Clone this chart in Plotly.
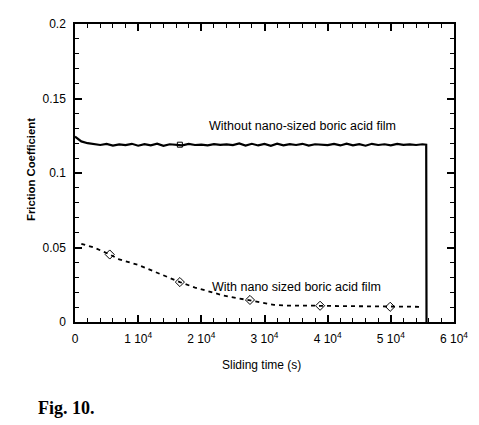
import plotly.graph_objects as go

# Upper series: without nano-sized boric acid film
x_without = [0, 1000, 2000, 3000, 4000, 5000, 6000, 7000, 8000, 9000,
             10000, 11000, 12000, 13000, 14000, 15000, 16000, 17000, 18000, 19000,
             20000, 21000, 22000, 23000, 24000, 25000, 26000, 27000, 28000, 29000,
             30000, 31000, 32000, 33000, 34000, 35000, 36000, 37000, 38000, 39000,
             40000, 41000, 42000, 43000, 44000, 45000, 46000, 47000, 48000, 49000,
             50000, 51000, 52000, 53000, 54000, 55000, 55600, 55650]
y_without = [0.1245, 0.1212, 0.1200, 0.1193, 0.1188, 0.1195, 0.1184, 0.1192, 0.1187, 0.1196,
             0.1183, 0.1194, 0.1186, 0.1197, 0.1182, 0.1193, 0.1189, 0.1185, 0.1195, 0.1188,
             0.1191, 0.1186, 0.1194, 0.1189, 0.1192, 0.1187, 0.1198, 0.1184, 0.1196, 0.1185,
             0.1195, 0.1183, 0.1197, 0.1186, 0.1194, 0.1188, 0.1196, 0.1184, 0.1193, 0.1190,
             0.1187, 0.1195, 0.1185, 0.1197, 0.1186, 0.1194, 0.1183, 0.1196, 0.1188, 0.1193,
             0.1186, 0.1195, 0.1189, 0.1192, 0.1188, 0.1193, 0.1190, 0.0]
x_without_mk = [16600]
y_without_mk = [0.1190]

# Lower series: with nano-sized boric acid film
x_with = [1000, 3000, 5500, 7000, 10000, 13000, 16600, 19000, 21500, 23500,
          25500, 27500, 29500, 31500, 33500, 35500, 37500, 39500, 41500, 43500,
          45500, 47500, 49500, 51500, 53500, 54800]
y_with = [0.0525, 0.0500, 0.0453, 0.0420, 0.0383, 0.0330, 0.0268, 0.0231, 0.0200, 0.0178,
          0.0162, 0.0148, 0.0130, 0.0115, 0.0110, 0.0112, 0.0110, 0.0108, 0.0107, 0.0105,
          0.0104, 0.0103, 0.0102, 0.0101, 0.0101, 0.0102]
x_with_mk = [5500, 16600, 27700, 38800, 49900]
y_with_mk = [0.0453, 0.0268, 0.0148, 0.0109, 0.0102]

x_ticks = [0, 10000, 20000, 30000, 40000, 50000, 60000]
x_ticktext = ["0", "1 10<sup>4</sup>", "2 10<sup>4</sup>", "3 10<sup>4</sup>",
              "4 10<sup>4</sup>", "5 10<sup>4</sup>", "6 10<sup>4</sup>"]
y_ticks = [0, 0.05, 0.1, 0.15, 0.2]
y_ticktext = ["0", "0.05", "0.1", "0.15", "0.2"]

FONT = "Liberation Sans"

fig = go.Figure()
fig.add_trace(go.Scatter(x=x_without, y=y_without, mode="lines",
                         line=dict(color="black", width=2.2), showlegend=False))
fig.add_trace(go.Scatter(x=x_without_mk, y=y_without_mk, mode="markers",
                         marker=dict(symbol="square-open", size=5, color="black",
                                     line=dict(width=1)), showlegend=False))
fig.add_trace(go.Scatter(x=x_with, y=y_with, mode="lines",
                         line=dict(color="black", width=1.8, dash="4px,4px"),
                         showlegend=False))
fig.add_trace(go.Scatter(x=x_with_mk, y=y_with_mk, mode="markers",
                         marker=dict(symbol="diamond-open", size=7, color="black",
                                     line=dict(width=1)), showlegend=False))

fig.update_layout(
    width=479, height=425,
    margin=dict(l=75, r=25, t=24, b=103),
    paper_bgcolor="white", plot_bgcolor="white",
    font=dict(family=FONT, size=12, color="black"),
    xaxis=dict(range=[0, 60000], tickvals=x_ticks, ticktext=x_ticktext,
               ticks="inside", ticklen=7, tickwidth=1.5, tickcolor="black",
               showline=True, linecolor="black", linewidth=2, mirror="ticks",
               showgrid=False, zeroline=False, ticklabelstandoff=5,
               minor=dict(dtick=2000, ticks="inside", ticklen=4, tickcolor="black",
                          tickwidth=1, showgrid=False),
               tickfont=dict(family=FONT, size=12)),
    yaxis=dict(range=[0, 0.2], tickvals=y_ticks, ticktext=y_ticktext,
               ticks="inside", ticklen=7, tickwidth=1.5, tickcolor="black",
               showline=True, linecolor="black", linewidth=1.5, mirror="ticks",
               showgrid=False, zeroline=False, ticklabelstandoff=5,
               minor=dict(dtick=0.01, ticks="inside", ticklen=4, tickcolor="black",
                          tickwidth=1, showgrid=False),
               tickfont=dict(family=FONT, size=12)),
    annotations=[
        dict(x=36080, y=0.1313, xref="x", yref="y", text="Without nano-sized boric acid film",
             showarrow=False, font=dict(family=FONT, size=12.5), xanchor="center", yanchor="middle"),
        dict(x=21300, y=0.0233, xref="x", yref="y", text="With nano sized boric acid film",
             showarrow=False, font=dict(family=FONT, size=12.5), xanchor="left", yanchor="middle"),
        dict(x=0, y=0.51, xref="paper", yref="paper", text="<b>Friction Coefficient</b>",
             textangle=-90, showarrow=False, font=dict(family=FONT, size=11.3),
             xanchor="center", yanchor="middle", xshift=-44),
        dict(x=0.493, y=0, xref="paper", yref="paper", text="Sliding time (s)",
             showarrow=False, font=dict(family=FONT, size=12),
             xanchor="center", yanchor="middle", yshift=-43),
        dict(x=0, y=0, xref="paper", yref="paper", text="<b>Fig. 10.</b>",
             showarrow=False, font=dict(family="Liberation Serif", size=18),
             xanchor="left", yanchor="middle", xshift=-39, yshift=-86),
    ],
)

fig.write_html("out.html")
